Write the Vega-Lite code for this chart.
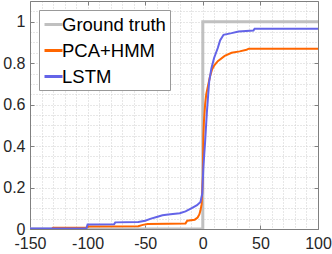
{
  "$schema": "https://vega.github.io/schema/vega-lite/v6.json",
  "width": 288,
  "height": 228,
  "autosize": {"type": "none"},
  "padding": {"left": 30, "top": 1, "right": 14, "bottom": 25},
  "config": {
    "view": {"stroke": null},
    "font": "Liberation Sans",
    "legend": {
      "orient": "top-left",
      "offset": 9,
      "fillColor": "white",
      "strokeColor": "#999999",
      "padding": 4,
      "rowPadding": 6,
      "labelFontSize": 18.5,
      "labelFont": "Liberation Sans",
      "labelColor": "#000000",
      "labelLimit": 0,
      "labelOffset": -2,
      "symbolType": "stroke",
      "symbolSize": 324,
      "symbolStrokeWidth": 3,
      "title": null
    }
  },
  "data": {
    "values": [
      {"series": "Ground truth", "ord": 1, "x": -150, "y": 0},
      {"series": "Ground truth", "ord": 2, "x": 0, "y": 0},
      {"series": "Ground truth", "ord": 3, "x": 0, "y": 1},
      {"series": "Ground truth", "ord": 4, "x": 100, "y": 1},

      {"series": "PCA+HMM", "ord": 1, "x": -150, "y": 0},
      {"series": "PCA+HMM", "ord": 2, "x": -131, "y": 0},
      {"series": "PCA+HMM", "ord": 3, "x": -130, "y": 0.006},
      {"series": "PCA+HMM", "ord": 4, "x": -101, "y": 0.006},
      {"series": "PCA+HMM", "ord": 5, "x": -100, "y": 0.012},
      {"series": "PCA+HMM", "ord": 6, "x": -56, "y": 0.013},
      {"series": "PCA+HMM", "ord": 7, "x": -52, "y": 0.02},
      {"series": "PCA+HMM", "ord": 8, "x": -48, "y": 0.024},
      {"series": "PCA+HMM", "ord": 9, "x": -30, "y": 0.025},
      {"series": "PCA+HMM", "ord": 10, "x": -15, "y": 0.027},
      {"series": "PCA+HMM", "ord": 11, "x": -13.5, "y": 0.04},
      {"series": "PCA+HMM", "ord": 12, "x": -7, "y": 0.045},
      {"series": "PCA+HMM", "ord": 13, "x": -4.5, "y": 0.055},
      {"series": "PCA+HMM", "ord": 14, "x": -3, "y": 0.07},
      {"series": "PCA+HMM", "ord": 15, "x": -2, "y": 0.09},
      {"series": "PCA+HMM", "ord": 16, "x": -1, "y": 0.12},
      {"series": "PCA+HMM", "ord": 17, "x": 0, "y": 0.25},
      {"series": "PCA+HMM", "ord": 18, "x": 0.5, "y": 0.45},
      {"series": "PCA+HMM", "ord": 19, "x": 1, "y": 0.52},
      {"series": "PCA+HMM", "ord": 20, "x": 2, "y": 0.6},
      {"series": "PCA+HMM", "ord": 21, "x": 3, "y": 0.65},
      {"series": "PCA+HMM", "ord": 22, "x": 4.5, "y": 0.69},
      {"series": "PCA+HMM", "ord": 23, "x": 6, "y": 0.73},
      {"series": "PCA+HMM", "ord": 24, "x": 8, "y": 0.77},
      {"series": "PCA+HMM", "ord": 25, "x": 10, "y": 0.79},
      {"series": "PCA+HMM", "ord": 26, "x": 13, "y": 0.81},
      {"series": "PCA+HMM", "ord": 27, "x": 19, "y": 0.835},
      {"series": "PCA+HMM", "ord": 28, "x": 25, "y": 0.85},
      {"series": "PCA+HMM", "ord": 29, "x": 32, "y": 0.857},
      {"series": "PCA+HMM", "ord": 30, "x": 38, "y": 0.865},
      {"series": "PCA+HMM", "ord": 31, "x": 40, "y": 0.87},
      {"series": "PCA+HMM", "ord": 32, "x": 100, "y": 0.87},

      {"series": "LSTM", "ord": 1, "x": -150, "y": 0.003},
      {"series": "LSTM", "ord": 2, "x": -101, "y": 0.003},
      {"series": "LSTM", "ord": 3, "x": -100, "y": 0.022},
      {"series": "LSTM", "ord": 4, "x": -77, "y": 0.023},
      {"series": "LSTM", "ord": 5, "x": -76, "y": 0.032},
      {"series": "LSTM", "ord": 6, "x": -56, "y": 0.034},
      {"series": "LSTM", "ord": 7, "x": -50, "y": 0.04},
      {"series": "LSTM", "ord": 8, "x": -45, "y": 0.05},
      {"series": "LSTM", "ord": 9, "x": -40, "y": 0.058},
      {"series": "LSTM", "ord": 10, "x": -35, "y": 0.066},
      {"series": "LSTM", "ord": 11, "x": -30, "y": 0.07},
      {"series": "LSTM", "ord": 12, "x": -20, "y": 0.076},
      {"series": "LSTM", "ord": 13, "x": -15, "y": 0.085},
      {"series": "LSTM", "ord": 14, "x": -10, "y": 0.1},
      {"series": "LSTM", "ord": 15, "x": -5, "y": 0.115},
      {"series": "LSTM", "ord": 16, "x": -2, "y": 0.13},
      {"series": "LSTM", "ord": 17, "x": -0.5, "y": 0.17},
      {"series": "LSTM", "ord": 18, "x": 0.5, "y": 0.3},
      {"series": "LSTM", "ord": 19, "x": 2, "y": 0.42},
      {"series": "LSTM", "ord": 20, "x": 3.5, "y": 0.56},
      {"series": "LSTM", "ord": 21, "x": 5.5, "y": 0.71},
      {"series": "LSTM", "ord": 22, "x": 7.5, "y": 0.776},
      {"series": "LSTM", "ord": 23, "x": 9.8, "y": 0.825},
      {"series": "LSTM", "ord": 24, "x": 13, "y": 0.873},
      {"series": "LSTM", "ord": 25, "x": 15, "y": 0.91},
      {"series": "LSTM", "ord": 26, "x": 18, "y": 0.937},
      {"series": "LSTM", "ord": 27, "x": 25, "y": 0.945},
      {"series": "LSTM", "ord": 28, "x": 31, "y": 0.953},
      {"series": "LSTM", "ord": 29, "x": 44, "y": 0.958},
      {"series": "LSTM", "ord": 30, "x": 45, "y": 0.966},
      {"series": "LSTM", "ord": 31, "x": 100, "y": 0.966}
    ]
  },
  "layer": [
    {
      "transform": [{"filter": "datum.series === 'Ground truth'"}],
      "mark": {"type": "line", "strokeWidth": 3, "clip": true},
      "encoding": {
        "x": {"field": "x", "type": "quantitative", "scale": {"domain": [-150, 100], "nice": false, "zero": false},
          "axis": {"orient": "bottom", "title": null, "values": [-150, -100, -50, 0, 50, 100], "labelExpr": "'' + datum.value",
            "labelFontSize": 16, "labelFont": "Liberation Sans", "labelColor": "#262626", "tickSize": -4, "labelPadding": 10,
            "tickColor": "#808080", "domainColor": "#808080", "grid": false, "labelFlush": false, "labelOverlap": false}},
        "y": {"field": "y", "type": "quantitative", "scale": {"domain": [0, 1.1], "nice": false},
          "axis": {"orient": "left", "title": null, "values": [0, 0.2, 0.4, 0.6, 0.8, 1], "labelExpr": "'' + datum.value",
            "labelFontSize": 16, "labelFont": "Liberation Sans", "labelColor": "#262626", "tickSize": -4, "labelPadding": 9,
            "labelOffset": 0,
            "tickColor": "#808080", "domainColor": "#808080", "grid": false, "labelOverlap": false}},
        "color": {"field": "series", "type": "nominal",
          "scale": {"domain": ["Ground truth", "PCA+HMM", "LSTM"], "range": ["#c0c0c0", "#ff6600", "#6464e8"]},
          "legend": {"title": null}},
        "order": {"field": "ord", "type": "quantitative"}
      }
    },
    {
      "transform": [{"filter": "datum.series === 'PCA+HMM'"}],
      "mark": {"type": "line", "strokeWidth": 2, "clip": true},
      "encoding": {
        "x": {"field": "x", "type": "quantitative", "scale": {"domain": [-150, 100], "nice": false, "zero": false},
          "axis": {"orient": "top", "title": null, "values": [-150, -100, -50, 0, 50, 100], "labels": false,
            "tickSize": -4, "tickColor": "#808080", "domainColor": "#808080", "grid": false}},
        "y": {"field": "y", "type": "quantitative", "scale": {"domain": [0, 1.1], "nice": false},
          "axis": {"orient": "right", "title": null, "values": [0, 0.2, 0.4, 0.6, 0.8, 1], "labels": false,
            "tickSize": -4, "tickColor": "#808080", "domainColor": "#808080", "grid": false}},
        "color": {"field": "series", "type": "nominal",
          "scale": {"domain": ["Ground truth", "PCA+HMM", "LSTM"], "range": ["#c0c0c0", "#ff6600", "#6464e8"]}},
        "order": {"field": "ord", "type": "quantitative"}
      }
    },
    {
      "transform": [{"filter": "datum.series === 'LSTM'"}],
      "mark": {"type": "line", "strokeWidth": 2, "clip": true},
      "encoding": {
        "x": {"field": "x", "type": "quantitative", "scale": {"domain": [-150, 100], "nice": false, "zero": false},
          "axis": {"orient": "bottom", "title": null,
            "values": [-140, -130, -120, -110, -100, -90, -80, -70, -60, -50, -40, -30, -20, -10, 0, 10, 20, 30, 40, 50, 60, 70, 80, 90],
            "labels": false, "ticks": false, "domain": false, "grid": true, "gridColor": "#cfcfcf", "gridDash": [1, 2], "gridWidth": 1}},
        "y": {"field": "y", "type": "quantitative", "scale": {"domain": [0, 1.1], "nice": false},
          "axis": {"orient": "left", "title": null,
            "values": [0.05, 0.1, 0.15, 0.2, 0.25, 0.3, 0.35, 0.4, 0.45, 0.5, 0.55, 0.6, 0.65, 0.7, 0.75, 0.8, 0.85, 0.9, 0.95, 1, 1.05],
            "labels": false, "ticks": false, "domain": false, "grid": true, "gridColor": "#cfcfcf", "gridDash": [1, 2], "gridWidth": 1}},
        "color": {"field": "series", "type": "nominal",
          "scale": {"domain": ["Ground truth", "PCA+HMM", "LSTM"], "range": ["#c0c0c0", "#ff6600", "#6464e8"]}},
        "order": {"field": "ord", "type": "quantitative"}
      }
    }
  ],
  "resolve": {"axis": {"x": "independent", "y": "independent"}}
}
